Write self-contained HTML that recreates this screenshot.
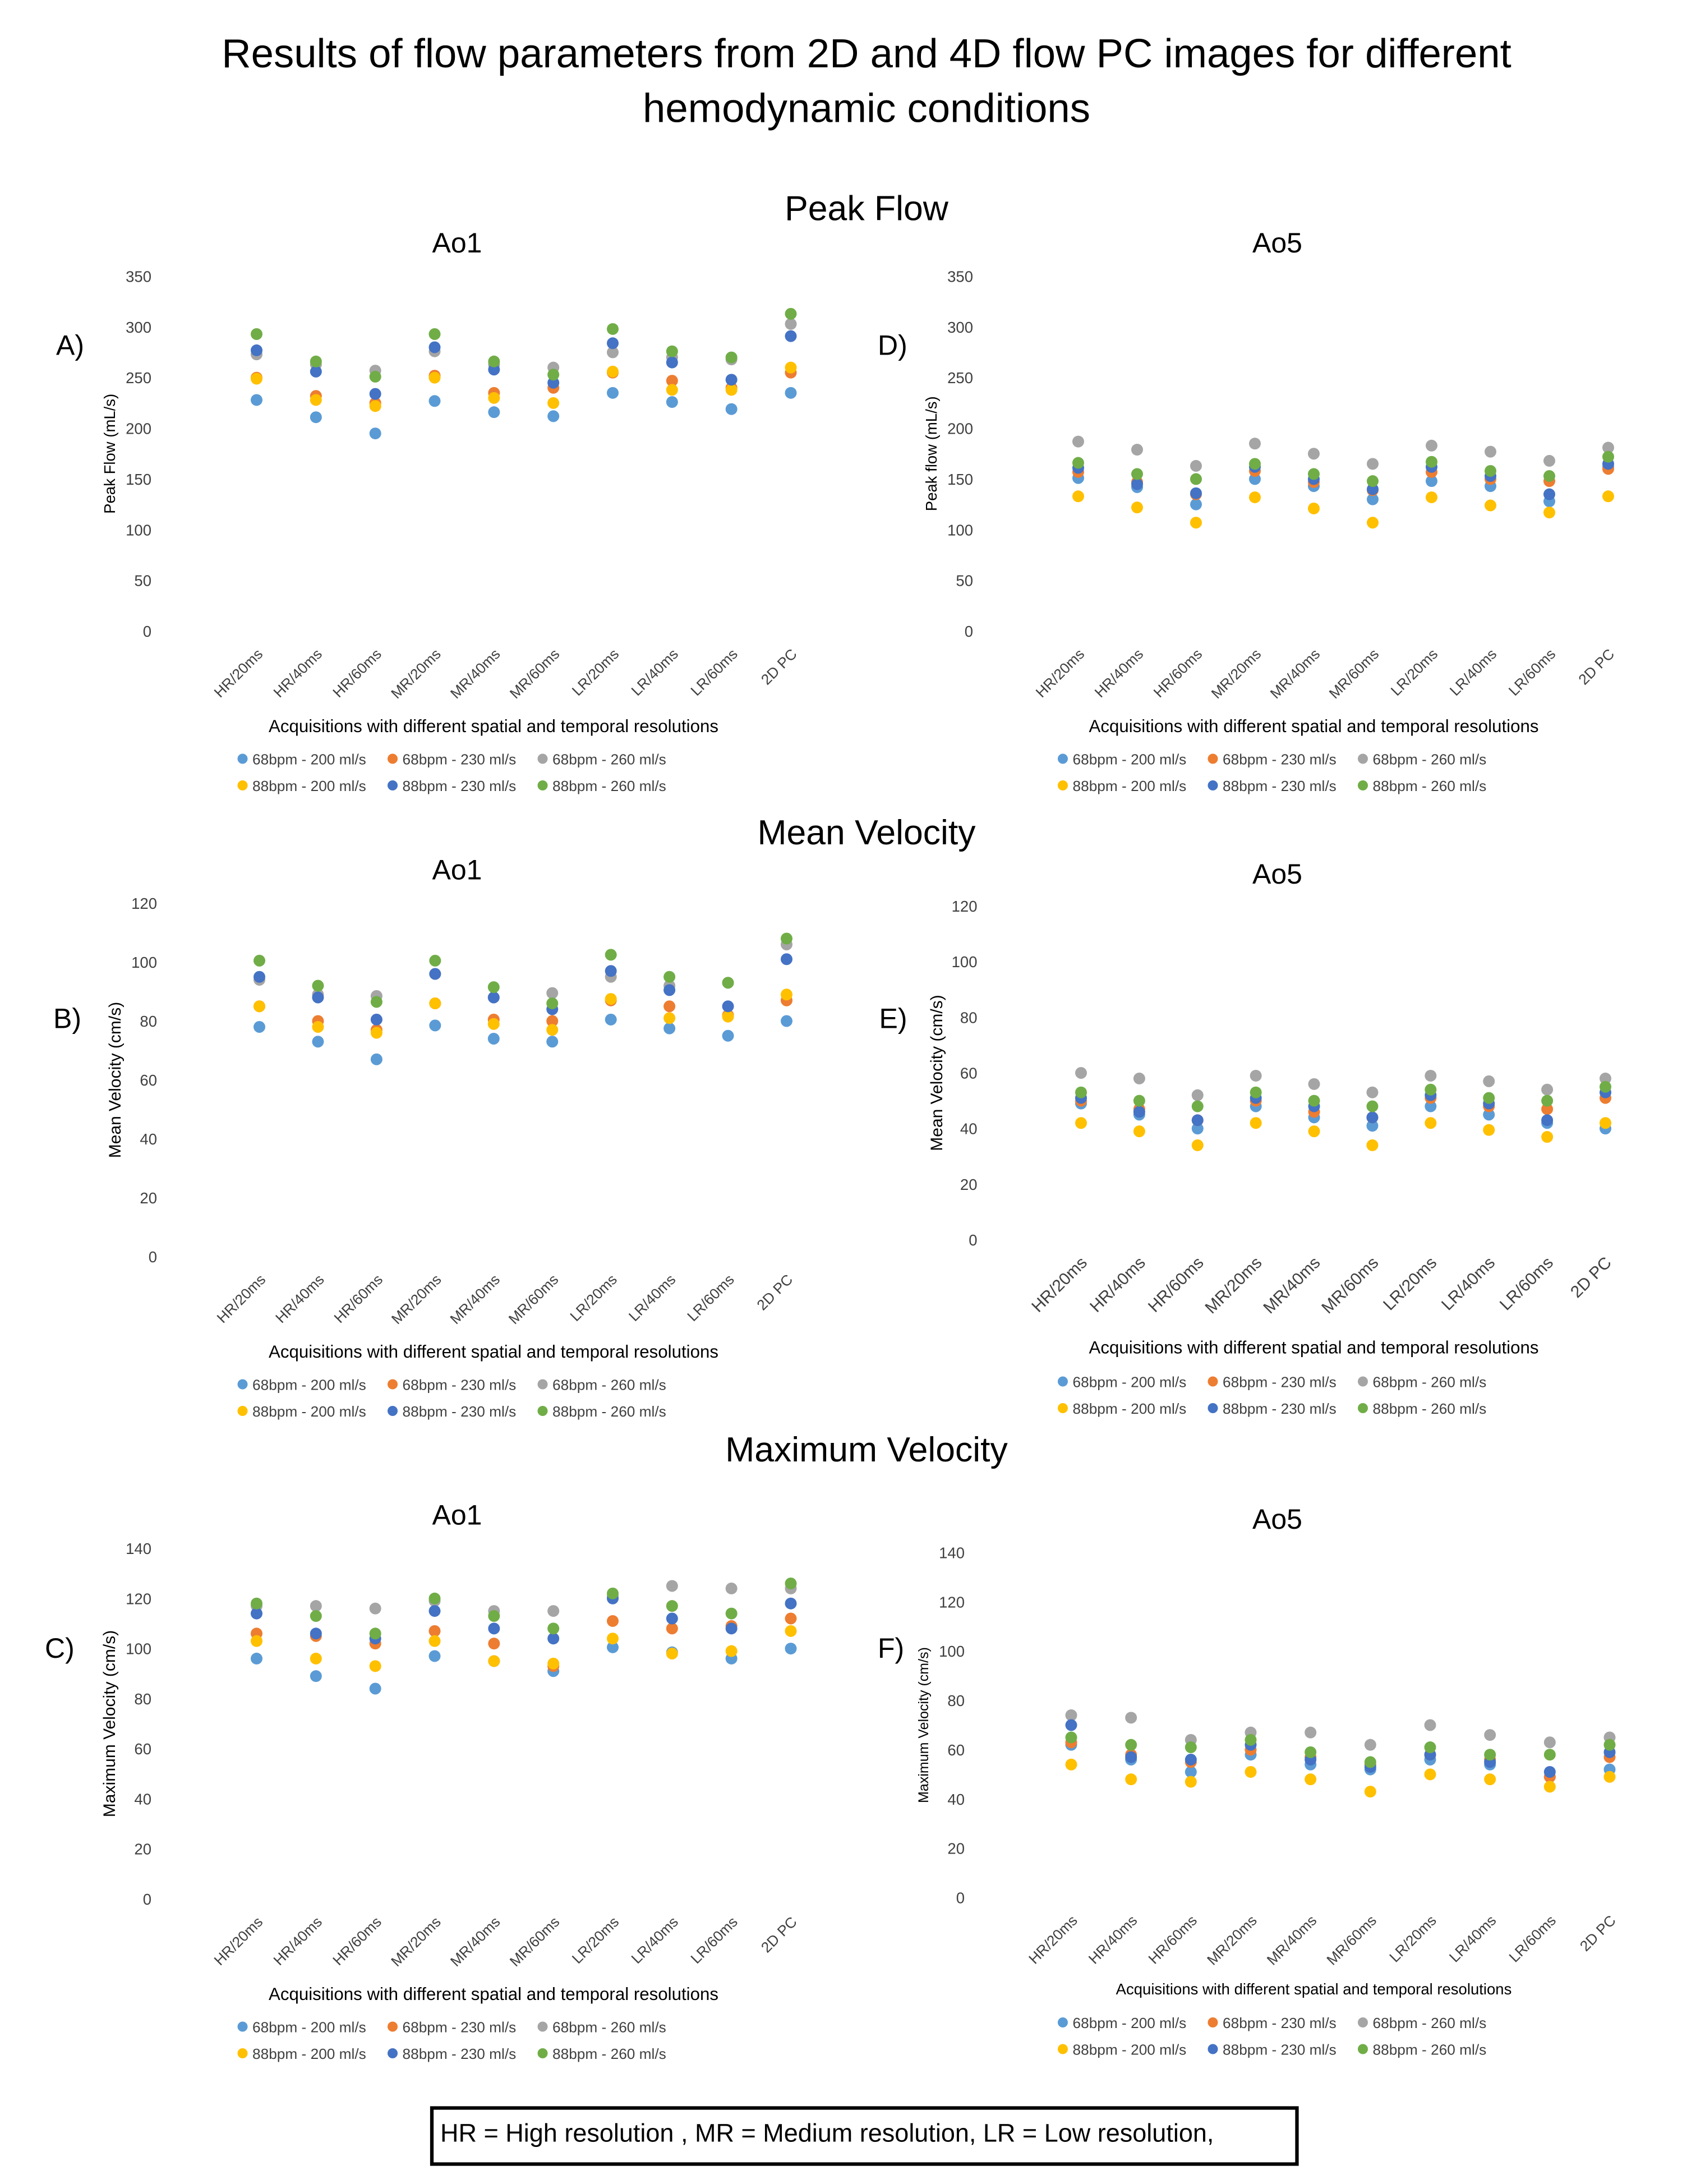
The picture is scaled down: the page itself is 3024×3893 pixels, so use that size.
<!DOCTYPE html>
<html><head><meta charset="utf-8"><style>
html,body{margin:0;padding:0;background:#fff}
svg{display:block;font-family:"Liberation Sans",Calibri,sans-serif}
</style></head><body>
<svg id="fig" width="3024" height="3893" viewBox="0 0 1209.6 1557.2" xmlns="http://www.w3.org/2000/svg">
<text x="618" y="48" font-size="29" text-anchor="middle">Results of flow parameters from 2D and 4D flow PC images for different</text>
<text x="618" y="87" font-size="29" text-anchor="middle">hemodynamic conditions</text>
<text x="618" y="157" font-size="25" text-anchor="middle">Peak Flow</text>
<text x="618" y="602" font-size="25" text-anchor="middle">Mean Velocity</text>
<text x="618" y="1042" font-size="25" text-anchor="middle">Maximum Velocity</text>
<rect x="308" y="1503" width="617" height="40" fill="none" stroke="#000" stroke-width="2.5"/>
<text x="314" y="1527" font-size="18">HR = High resolution , MR = Medium resolution, LR = Low resolution,</text>
<g id="charts"></g>
</svg>
<script>
const categories=["HR/20ms","HR/40ms","HR/60ms","MR/20ms","MR/40ms","MR/60ms","LR/20ms","LR/40ms","LR/60ms","2D PC"];
const seriesNames=["68bpm - 200 ml/s","68bpm - 230 ml/s","68bpm - 260 ml/s","88bpm - 200 ml/s","88bpm - 230 ml/s","88bpm - 260 ml/s"];
const seriesColors=["#5B9BD5","#ED7D31","#A5A5A5","#FFC000","#4472C4","#70AD47"];
const ticksPF=[0,50,100,150,200,250,300,350];
const ticksMV=[0,20,40,60,80,100,120];
const ticksXV=[0,20,40,60,80,100,120,140];
const peakAo1=[
[228,211,195,227,216,212,235,226,219,235],
[250,232,225,252,235,240,255,247,240,255],
[273,263,257,276,263,260,275,270,268,303],
[249,228,222,250,230,225,256,238,238,260],
[277,256,234,280,258,245,284,265,248,291],
[293,266,251,293,266,253,298,276,270,313]];
const peakAo5=[
[151,142,125,150,143,130,148,143,128,162],
[157,147,135,158,147,139,157,150,148,160],
[187,179,163,185,175,165,183,177,168,181],
[133,122,107,132,121,107,132,124,117,133],
[161,145,136,162,150,140,162,153,135,165],
[166,155,150,165,155,148,167,158,153,172]];
const meanAo1=[
[78,73,67,78.5,74,73,80.5,77.5,75,80],
[85,80,77,86,80.5,80,87,85,82,87],
[94,89,88.5,96,88,89.5,95,92,93,106],
[85,78,76,86,79,77,87.5,81,81.5,89],
[95,88,80.5,96,88,84,97,90.5,85,101],
[100.5,92,86.5,100.5,91.5,86,102.5,95,93,108]];
const meanAo5=[
[49,45,40,48,44,41,48,45,42,40],
[50,47,43,50,46,44,51,48,47,51],
[60,58,52,59,56,53,59,57,54,58],
[42,39,34,42,39,34,42,39.5,37,42],
[51,46,43,51,48,44,52,49,43,53],
[53,50,48,53,50,48,54,51,50,55]];
const maxAo1=[
[96,89,84,97,95,91,100.5,98.5,96,100],
[106,105,102,107,102,93,111,108,109,112],
[117,117,116,119,115,115,121,125,124,124],
[103,96,93,103,95,94,104,98,99,107],
[114,106,104,115,108,104,120,112,108,118],
[118,113,106,120,113,108,122,117,114,126]];
const maxAo5=[
[62,56,51,58,54,52,56,54,49,52],
[63,58,55,60,57,54,58,56,49,57],
[74,73,64,67,67,62,70,66,63,65],
[54,48,47,51,48,43,50,48,45,49],
[70,57,56,62,56,53,58,55,51,59],
[65,62,61,64,59,55,61,58,58,62]];

const NS="http://www.w3.org/2000/svg";
const root=document.getElementById("charts");
function mk(tag,attrs,parent,txt){const e=document.createElementNS(NS,tag);for(const k in attrs)e.setAttribute(k,attrs[k]);if(txt!==undefined)e.textContent=txt;parent.appendChild(e);return e;}

function panel(cfg){
  const g=mk("g",{},root);
  
  
  const tmax=cfg.ticks[cfg.ticks.length-1];
  const y=v=>cfg.y0-(v/tmax)*(cfg.y0-cfg.yTop);
  const x=i=>cfg.x0+i*(cfg.x1-cfg.x0)/(categories.length-1);
  const t=mk("text",{x:cfg.titleX,y:cfg.titleY,"font-size":20,"text-anchor":"middle"},g,cfg.title);
  
  
  const pl=mk("text",{x:cfg.labX,y:cfg.labY,"font-size":20},g,cfg.label);
  
  
  cfg.ticks.forEach(v=>{
    const tk=mk("text",{x:cfg.tickX,y:y(v)+4,"font-size":11,"text-anchor":"end",fill:"#404040"},g,String(v));
    
    
  });
  const yt=mk("text",{transform:`translate(${cfg.ytX},${(cfg.y0+cfg.yTop)/2}) rotate(-90)`,"font-size":cfg.ytSize,"text-anchor":"middle"},g,cfg.yTitle);
  
  
  categories.forEach((c,i)=>{
    const ax=x(i)+5, ay=cfg.y0+17;
    const xl=mk("text",{transform:`translate(${ax},${ay}) rotate(-45)`,"font-size":cfg.xtSize,"text-anchor":"end",fill:"#404040"},g,c);
    
    
  });
  const xt=mk("text",{x:cfg.xtX,y:cfg.xtY,"font-size":cfg.xtitleSize,"text-anchor":"middle"},g,"Acquisitions with different spatial and temporal resolutions");
  
  
  cfg.data.forEach((ser,s)=>{
    ser.forEach((v,i)=>{
      const c=mk("circle",{cx:x(i),cy:y(v),r:4.2,fill:seriesColors[s]},g);
      
      
    });
  });
  seriesNames.forEach((n,s)=>{
    const col=s%3,row=Math.floor(s/3);
    const lx=cfg.legX+col*107, ly=cfg.legY+row*19;
    const d=mk("circle",{cx:lx,cy:ly-4,r:3.6,fill:seriesColors[s]},g);
    
    
    const lt=mk("text",{x:lx+7,y:ly,"font-size":10.5,fill:"#404040"},g,n);
    
    
  });
}
panel({id:"a",title:"Ao1",titleX:326,titleY:180,label:"A)",labX:40,labY:253,ticks:ticksPF,y0:450,yTop:197,x0:183,x1:564,tickX:108,ytX:82,ytSize:11,yTitle:"Peak  Flow (mL/s)",xtSize:10.5,xtX:352,xtY:522,xtitleSize:12.5,legX:173,legY:545,data:peakAo1});
panel({id:"d",title:"Ao5",titleX:911,titleY:180,label:"D)",labX:626,labY:253,ticks:ticksPF,y0:450,yTop:197,x0:769,x1:1147,tickX:694,ytX:668,ytSize:11,yTitle:"Peak flow (mL/s)",xtSize:10.5,xtX:937,xtY:522,xtitleSize:12.5,legX:758,legY:545,data:peakAo5});
panel({id:"b",title:"Ao1",titleX:326,titleY:627,label:"B)",labX:38,labY:733,ticks:ticksMV,y0:896,yTop:644,x0:185,x1:561,tickX:112,ytX:86,ytSize:12,yTitle:"Mean Velocity (cm/s)",xtSize:10.5,xtX:352,xtY:968,xtitleSize:12.5,legX:173,legY:991,data:meanAo1});
panel({id:"e",title:"Ao5",titleX:911,titleY:630,label:"E)",labX:627,labY:733,ticks:ticksMV,y0:884,yTop:646,x0:771,x1:1145,tickX:697,ytX:672,ytSize:12,yTitle:"Mean Velocity (cm/s)",xtSize:12,xtX:937,xtY:965,xtitleSize:12.5,legX:758,legY:989,data:meanAo5});
panel({id:"c",title:"Ao1",titleX:326,titleY:1087,label:"C)",labX:32,labY:1182,ticks:ticksXV,y0:1354,yTop:1104,x0:183,x1:564,tickX:108,ytX:82,ytSize:12,yTitle:"Maximum Velocity (cm/s)",xtSize:10.5,xtX:352,xtY:1426,xtitleSize:12.5,legX:173,legY:1449,data:maxAo1});
panel({id:"f",title:"Ao5",titleX:911,titleY:1090,label:"F)",labX:626,labY:1182,ticks:ticksXV,y0:1353,yTop:1107,x0:764,x1:1148,tickX:688,ytX:662,ytSize:10,yTitle:"Maximum Velocity (cm/s)",xtSize:10.5,xtX:937,xtY:1422,xtitleSize:11,legX:758,legY:1446,data:maxAo5});
</script>
</body></html>
